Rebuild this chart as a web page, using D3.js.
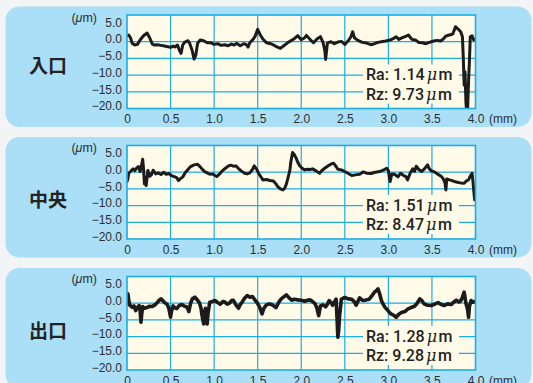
<!DOCTYPE html>
<html><head><meta charset="utf-8">
<script src="https://cdn.jsdelivr.net/npm/d3@7"></script>
<style>
html,body{margin:0;padding:0;background:#f3f4f5;}
svg{display:block;}
</style>
</head><body>
<svg id="chart" width="533" height="383"></svg>
<script>
// Surface roughness profiles at three positions (inlet / centre / outlet)
const panelNames = ["入口", "中央", "出口"];
const raValues = ["1.14", "1.51", "1.28"];
const rzValues = ["9.73", "8.47", "9.28"];

const xTickValues = [0, 0.5, 1, 1.5, 2, 2.5, 3, 3.5, 4];
const xTickLabels = ["0", "0.5", "1.0", "1.5", "2.0", "2.5", "3.0", "3.5", "4.0"];
const yTickValues = [5, 0, -5, -10, -15, -20];
const yTickLabels = ["5.0", "0.0", "\u22125.0", "\u221210.0", "\u221215.0", "\u221220.0"];
const yGridValues = [0, -5, -10, -15];

// profile points: [position mm, height µm]
const profileInlet = [
 [0.00,1.7],[0.02,2.0],[0.04,1.2],[0.06,-0.5],[0.09,-1.0],[0.12,-0.8],[0.15,0.5],[0.19,1.8],
 [0.23,2.6],[0.26,1.2],[0.29,-0.7],[0.31,-1.0],[0.35,-0.9],[0.39,-1.1],[0.43,-1.3],[0.47,-1.5],
 [0.50,-1.7],[0.53,-1.3],[0.55,-1.6],[0.58,-1.0],[0.60,-2.5],[0.62,-3.5],[0.64,-1.0],[0.66,-0.2],
 [0.70,0.3],[0.72,-0.5],[0.75,-2.8],[0.77,-5.2],[0.79,-4.0],[0.81,-0.5],[0.84,0.5],[0.88,0.3],
 [0.92,-0.3],[0.96,-0.3],[1.00,-0.8],[1.04,-0.6],[1.08,-1.1],[1.12,-0.9],[1.16,-1.2],[1.20,-0.7],
 [1.23,-1.0],[1.26,-0.5],[1.30,-1.2],[1.34,-0.6],[1.37,-0.9],[1.39,-1.6],[1.41,-0.3],[1.44,0.5],
 [1.47,1.6],[1.50,3.7],[1.53,2.0],[1.56,0.8],[1.60,-0.3],[1.66,-0.7],[1.71,-1.4],[1.76,-2.0],
 [1.80,-1.2],[1.85,-0.2],[1.92,0.9],[1.96,1.8],[2.00,0.6],[2.04,1.2],[2.06,1.9],[2.10,0.7],
 [2.14,-0.3],[2.18,0.8],[2.22,1.5],[2.25,-0.2],[2.27,-2.5],[2.28,-5.3],[2.30,-0.4],[2.34,0.0],
 [2.38,-0.6],[2.42,-0.1],[2.46,0.1],[2.50,-0.8],[2.54,0.3],[2.57,1.5],[2.59,3.0],[2.61,1.2],
 [2.65,0.4],[2.70,-0.2],[2.75,-0.4],[2.80,-0.9],[2.84,-0.6],[2.88,-0.2],[2.92,0.0],[2.97,0.2],
 [3.02,0.5],[3.06,1.0],[3.09,1.5],[3.12,0.7],[3.16,1.2],[3.20,1.6],[3.23,2.0],[3.27,0.7],
 [3.31,0.5],[3.35,-0.2],[3.39,-0.3],[3.43,-0.6],[3.47,-0.2],[3.52,0.2],[3.56,0.4],[3.60,0.2],
 [3.63,0.8],[3.66,1.7],[3.70,2.0],[3.74,2.3],[3.77,4.5],[3.80,3.8],[3.83,3.0],[3.85,1.5],
 [3.86,-5.0],[3.87,-13.0],[3.88,-9.0],[3.89,-18.0],[3.90,-21.5],[3.91,-20.0],[3.92,-12.0],
 [3.93,-6.0],[3.94,1.5],[3.96,1.8],[3.98,0.5],[4.00,0.8]
];

const profileCentre = [
 [0.00,-2.8],[0.01,-2.0],[0.02,-0.3],[0.05,0.5],[0.07,1.0],[0.09,0.5],[0.11,1.2],[0.13,1.7],
 [0.15,0.2],[0.17,2.5],[0.18,3.9],[0.19,1.0],[0.20,-3.5],[0.21,-1.5],[0.22,-4.0],[0.24,0.5],
 [0.26,-1.2],[0.28,-0.8],[0.30,0.6],[0.33,-0.5],[0.36,-0.2],[0.39,-0.7],[0.42,0.0],[0.45,-0.6],
 [0.48,-0.4],[0.51,-1.0],[0.54,-1.3],[0.57,-1.6],[0.59,-2.5],[0.61,-2.0],[0.64,-1.4],[0.67,-0.1],
 [0.70,0.8],[0.73,1.7],[0.77,2.2],[0.81,2.4],[0.84,1.6],[0.86,1.0],[0.89,0.2],[0.92,-0.2],
 [0.95,-0.6],[0.98,-0.5],[1.01,-1.0],[1.03,-1.3],[1.06,-0.6],[1.09,0.3],[1.13,1.2],[1.16,1.8],
 [1.19,2.1],[1.22,1.8],[1.25,1.9],[1.28,1.1],[1.31,0.4],[1.35,-0.3],[1.38,-0.5],[1.41,-0.2],
 [1.44,0.8],[1.46,1.9],[1.49,0.8],[1.51,-0.3],[1.54,-1.5],[1.56,-2.3],[1.60,-2.2],[1.64,-2.5],
 [1.68,-2.6],[1.71,-3.5],[1.73,-4.3],[1.76,-5.0],[1.79,-5.3],[1.81,-4.8],[1.83,-3.5],[1.85,-1.5],
 [1.87,0.7],[1.88,3.0],[1.90,5.9],[1.92,5.3],[1.94,4.3],[1.96,3.0],[1.98,2.0],[2.01,1.2],
 [2.04,0.7],[2.07,0.9],[2.10,0.8],[2.13,1.0],[2.17,0.4],[2.21,-0.3],[2.24,0.6],[2.27,1.2],
 [2.31,1.9],[2.34,2.4],[2.37,2.7],[2.40,1.7],[2.42,0.9],[2.46,0.7],[2.50,0.2],[2.54,-0.4],
 [2.58,-1.0],[2.62,-0.8],[2.67,-0.6],[2.71,0.1],[2.75,-0.3],[2.80,-0.4],[2.85,0.0],[2.90,0.2],
 [2.94,0.6],[2.98,1.2],[3.00,0.5],[3.02,-2.8],[3.04,-0.5],[3.07,-0.6],[3.11,-1.4],[3.14,-0.3],
 [3.17,-0.9],[3.20,-1.3],[3.22,-2.3],[3.25,-0.3],[3.28,1.0],[3.30,0.2],[3.32,1.8],[3.35,0.8],
 [3.38,0.2],[3.41,0.9],[3.45,2.2],[3.47,1.0],[3.49,0.5],[3.52,0.2],[3.55,-0.3],[3.58,-0.8],
 [3.61,-1.3],[3.63,-2.0],[3.65,-3.2],[3.66,-5.3],[3.67,-2.0],[3.70,-2.3],[3.73,-2.5],[3.76,-2.8],
 [3.79,-3.0],[3.83,-3.2],[3.87,-3.3],[3.90,-2.5],[3.92,-2.3],[3.94,-1.2],[3.96,-0.3],[3.97,-2.5],
 [3.98,-5.5],[3.99,-8.3],[4.00,-7.5]
];

const profileOutlet = [
 [0.00,0.0],[0.01,2.8],[0.02,1.0],[0.03,-0.5],[0.05,-1.0],[0.06,-1.2],[0.08,-0.8],[0.10,-2.2],
 [0.12,-1.3],[0.14,-0.7],[0.15,-2.0],[0.16,-5.7],[0.17,-3.0],[0.18,-1.0],[0.20,-1.5],[0.23,-1.3],
 [0.26,-0.9],[0.29,-1.0],[0.32,-0.5],[0.35,0.3],[0.37,0.9],[0.39,1.3],[0.41,0.8],[0.43,0.2],
 [0.46,-0.3],[0.48,-1.5],[0.50,-4.2],[0.51,-2.5],[0.53,-0.8],[0.55,-1.4],[0.57,-1.6],[0.60,-0.7],
 [0.63,-0.4],[0.66,-0.9],[0.68,-1.0],[0.70,-1.8],[0.71,-2.5],[0.73,0.0],[0.75,1.3],[0.78,1.8],
 [0.80,1.2],[0.83,0.2],[0.85,-1.5],[0.86,-3.5],[0.88,-6.2],[0.89,-3.0],[0.90,-1.5],[0.91,-4.0],
 [0.92,-6.2],[0.93,-3.0],[0.95,0.3],[0.98,0.5],[1.01,0.8],[1.04,0.2],[1.07,-0.3],[1.10,0.5],
 [1.12,0.4],[1.15,-0.3],[1.18,0.1],[1.20,0.8],[1.22,0.9],[1.25,-0.5],[1.28,-1.5],[1.30,-0.4],
 [1.32,0.3],[1.35,1.5],[1.38,2.3],[1.41,1.8],[1.44,2.0],[1.47,0.9],[1.49,0.3],[1.52,-1.0],
 [1.55,-3.2],[1.57,-1.6],[1.60,-0.5],[1.63,-0.2],[1.66,-0.4],[1.69,-0.9],[1.71,-1.3],[1.74,0.2],
 [1.77,1.3],[1.80,1.9],[1.83,2.5],[1.86,1.6],[1.89,0.9],[1.92,1.2],[1.96,1.0],[2.00,0.9],
 [2.04,0.6],[2.07,0.9],[2.10,1.0],[2.13,0.5],[2.16,-0.2],[2.18,-1.5],[2.20,-3.7],[2.22,-0.8],
 [2.25,-0.5],[2.28,-1.1],[2.30,-0.3],[2.32,0.8],[2.34,0.2],[2.36,-0.6],[2.38,0.4],[2.40,1.2],
 [2.41,-4.0],[2.42,-10.2],[2.43,-8.0],[2.44,-3.7],[2.46,1.2],[2.48,1.5],[2.50,1.7],[2.54,1.3],
 [2.58,1.2],[2.61,0.4],[2.63,-0.6],[2.65,0.5],[2.67,1.6],[2.70,0.9],[2.72,0.8],[2.75,1.0],
 [2.78,1.2],[2.81,2.2],[2.84,3.3],[2.86,3.7],[2.88,4.3],[2.90,2.8],[2.92,0.8],[2.94,-0.3],
 [2.96,-1.2],[2.99,-2.0],[3.01,-2.7],[3.03,-3.2],[3.06,-3.6],[3.09,-4.2],[3.12,-3.3],[3.15,-2.8],
 [3.19,-2.5],[3.22,-1.8],[3.26,-1.3],[3.30,-0.9],[3.33,0.0],[3.36,1.3],[3.39,0.6],[3.41,-0.2],
 [3.45,-0.6],[3.49,-0.7],[3.53,-0.3],[3.57,0.2],[3.60,-0.3],[3.64,-0.7],[3.68,-0.2],[3.72,-0.4],
 [3.75,0.3],[3.78,0.9],[3.81,0.4],[3.83,0.7],[3.85,1.8],[3.87,3.3],[3.89,0.0],[3.91,-2.0],
 [3.92,-4.2],[3.93,-1.0],[3.95,0.8],[3.97,0.3],[4.00,0.6]
];

const profiles = [profileInlet, profileCentre, profileOutlet];

// layout
const panelTop = [0, 130.5, 261.5];
const labelY = [64.5, 67.8, 68.2];
const lineWidth = [3, 3, 3.6];
const plot = {left: 127, right: 475.5, top: 15, bottom: 108.5};

const svg = d3.select("#chart");
const C = {
  page: "#f3f4f5", panel: "#aadff7", plotBg: "#fffbe8",
  grid: "#1aaee5", text: "#2e2e2e", line: "#1c1a1a"
};
svg.append("rect").attr("width", 533).attr("height", 383).attr("fill", C.page);

const x = d3.scaleLinear().domain([0, 4]).range([plot.left, plot.right]);
const y = d3.scaleLinear().domain([-20, 8]).range([plot.bottom, plot.top]);
const line = d3.line().x(d => x(d[0])).y(d => y(d[1])).curve(d3.curveLinear);

const defs = svg.append("defs");
defs.append("clipPath").attr("id", "plotClip")
  .append("rect").attr("x", plot.left).attr("y", plot.top)
  .attr("width", plot.right - plot.left).attr("height", plot.bottom - plot.top);

panelNames.forEach((name, i) => {
  const g = svg.append("g").attr("transform", `translate(0,${panelTop[i]})`);

  g.append("rect").attr("x", 5.5).attr("y", 6.5).attr("width", 526).attr("height", 120.5)
    .attr("rx", 14).attr("fill", C.panel);

  g.append("text").attr("x", 48).attr("y", labelY[i]).attr("text-anchor", "middle")
    .attr("dominant-baseline", "central")
    .attr("font-family", "'Noto Sans CJK JP', sans-serif").attr("font-weight", 700)
    .attr("font-size", 19).attr("fill", "#222").text(name);

  g.append("rect").attr("x", plot.left).attr("y", plot.top)
    .attr("width", plot.right - plot.left).attr("height", plot.bottom - plot.top)
    .attr("fill", C.plotBg);

  // grid
  g.append("g").selectAll("line").data(xTickValues.slice(1, -1)).join("line")
    .attr("x1", d => x(d)).attr("x2", d => x(d)).attr("y1", plot.top).attr("y2", plot.bottom)
    .attr("stroke", C.grid).attr("stroke-width", 1.2);
  g.append("g").selectAll("line").data(yGridValues).join("line")
    .attr("x1", plot.left).attr("x2", plot.right).attr("y1", d => y(d)).attr("y2", d => y(d))
    .attr("stroke", C.grid).attr("stroke-width", 1.2);

  // Ra / Rz readout box
  const bx = g.append("g");
  bx.append("rect").attr("x", 363).attr("y", 64.5).attr("width", 96).attr("height", 39)
    .attr("fill", C.plotBg);
  [["Ra: ", raValues[i], 80], ["Rz: ", rzValues[i], 99.5]].forEach(([lab, v, by]) => {
    const t = bx.append("text").attr("x", 366).attr("y", by)
      .attr("font-family", "Roboto, 'Liberation Sans', Arial, sans-serif")
      .attr("font-weight", 500).attr("font-size", 16)
      .attr("fill", "#222");
    t.append("tspan").text(lab + v);
    t.append("tspan").attr("dx", 2).attr("font-style", "italic")
      .attr("font-family", "'DejaVu Serif', serif").attr("font-weight", 400).text("\u03bc");
    t.append("tspan").attr("dx", 1.5).text("m");
  });

  // profile
  g.append("path").datum(profiles[i]).attr("d", line)
    .attr("clip-path", "url(#plotClip)")
    .attr("fill", "none").attr("stroke", C.line)
    .attr("stroke-width", lineWidth[i])
    .attr("stroke-linejoin", "round").attr("stroke-linecap", "round");

  // frame
  g.append("rect").attr("x", plot.left).attr("y", plot.top)
    .attr("width", plot.right - plot.left).attr("height", plot.bottom - plot.top)
    .attr("fill", "none").attr("stroke", C.grid).attr("stroke-width", 1.6);

  // axes (labels only)
  const xAxis = d3.axisBottom(x).tickValues(xTickValues).tickSize(0).tickPadding(0)
    .tickFormat((d, k) => xTickLabels[k]);
  const xa = g.append("g").attr("transform", `translate(0,${plot.bottom + 14.8})`).call(xAxis);
  xa.select(".domain").remove();
  xa.selectAll("text").attr("dy", 0).attr("font-size", 12)
    .attr("font-family", "'Liberation Sans', Arial, sans-serif").attr("fill", C.text);

  const yAxis = d3.axisLeft(y).tickValues(yTickValues).tickSize(0).tickPadding(5)
    .tickFormat((d, k) => yTickLabels[k]);
  const ya = g.append("g").attr("transform", `translate(${plot.left},0)`).call(yAxis);
  ya.select(".domain").remove();
  ya.selectAll("text").attr("dy", "0.1em").attr("font-size", 12)
    .attr("font-family", "'Liberation Sans', Arial, sans-serif").attr("fill", C.text);

  g.append("text").attr("x", 489).attr("y", plot.bottom + 14.8)
    .attr("font-size", 12).attr("font-family", "'Liberation Sans', Arial, sans-serif")
    .attr("fill", C.text).text("(mm)");

  const um = g.append("text").attr("x", 97).attr("y", 21.5).attr("text-anchor", "end")
    .attr("font-size", 12.5).attr("font-family", "'Liberation Sans', Arial, sans-serif")
    .attr("fill", C.text);
  um.append("tspan").text("(");
  um.append("tspan").attr("font-style", "italic").text("\u03bc");
  um.append("tspan").text("m)");
});
</script>
</body></html>
